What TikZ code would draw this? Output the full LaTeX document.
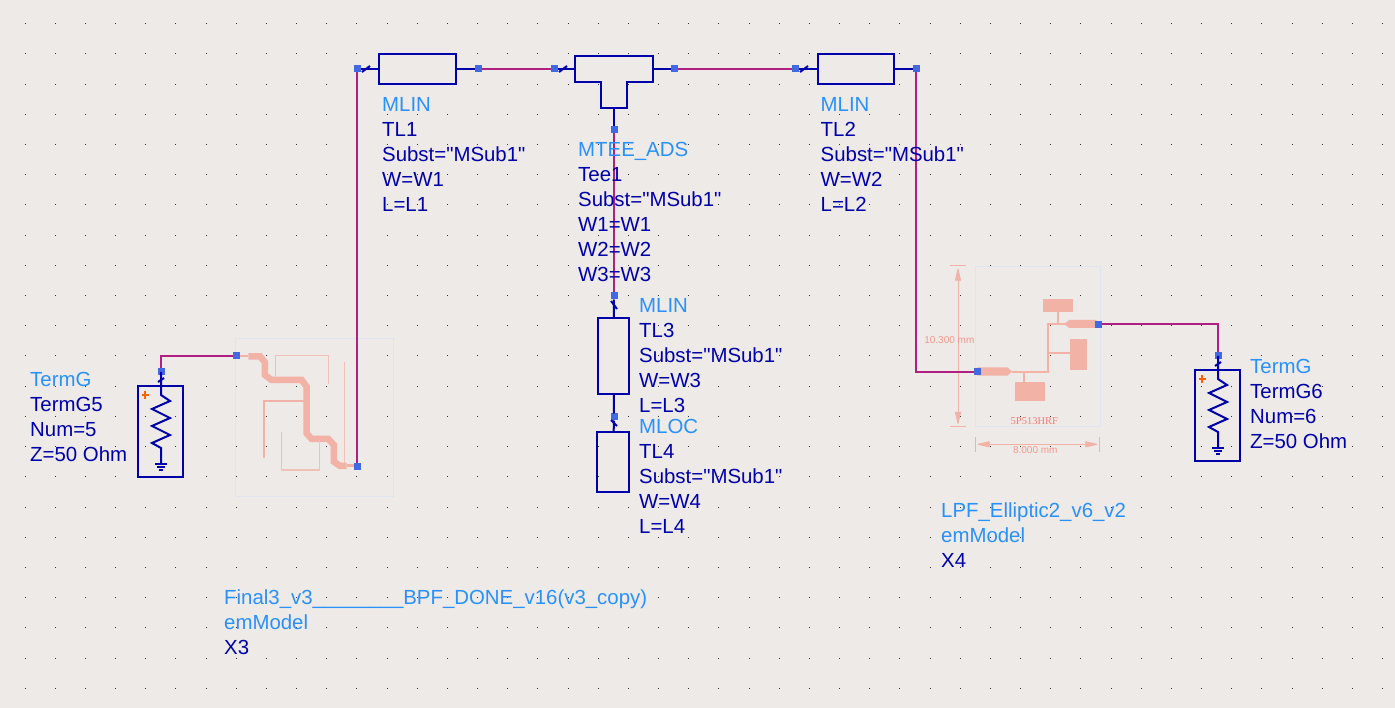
\documentclass[tikz,border=0pt]{standalone}
\usepackage{fontspec}
\setmainfont[Ligatures=TeXOff]{Liberation Sans}
\usepackage{tikz}
\usetikzlibrary{arrows.meta}

\definecolor{sheet}{RGB}{238,234,232}
\definecolor{wirecol}{RGB}{176,32,128}
\definecolor{partcol}{RGB}{0,0,170}
\definecolor{typecol}{RGB}{40,145,250}
\definecolor{pincol}{RGB}{65,105,225}
\definecolor{layoutcol}{RGB}{242,178,166}
\definecolor{framecol}{RGB}{222,228,240}

\tikzset{
  wire/.style={draw=wirecol, line width=2pt},
  part/.style={draw=partcol, line width=2pt},
  pinbox/.style={fill=pincol, minimum size=7pt, inner sep=0pt, outer sep=0pt},
  partbox/.style={draw=partcol, line width=2pt, inner sep=0pt, outer sep=0pt},
  param/.style={anchor=north west, inner sep=0pt, align=left, text=partcol,
    font=\fontsize{20.4}{25}\selectfont},
  trace/.style={draw=layoutcol, line width=#1, miter limit=4},
  trace/.default=1pt,
  dimline/.style={trace=1pt, {Stealth[length=14pt,width=6pt,inset=0pt]}-{Stealth[length=14pt,width=6pt,inset=0pt]}},
  termg/.pic={
    \node[pinbox] (-pin) at (0,0) {};
    \draw[part] (0,0) -- (0,23) -- (9,29) -- (-9,37) -- (9,46) -- (-9,54) -- (9,63) -- (-9,71) -- (0,76) -- (0,92);
    \draw[part] (-6,92) -- (6,92);
    \draw[part] (-4,95) -- (4,95);
    \draw[part] (-2,98) -- (2,98);
    \draw[part] (-3,10) -- (3,6);
    \draw[part] (-23,14) rectangle (22,105);
    \draw[draw=orange!75!red, line width=1.8pt] (-19.5,23) -- (-12,23) (-15.7,19) -- (-15.7,27);
  }
}

\begin{document}
\begin{tikzpicture}[x=1pt, y=-1pt]
\fill[sheet] (0,0) rectangle (1395,708);
\useasboundingbox (0,0) rectangle (1395,708);

% grid
\foreach \i in {0,...,45}
  \foreach \j in {0,...,22}
    \fill[black!80] (25+30.17*\i-.5, 23.8+30.2*\j-.5) rectangle ++(1,1);

% left em model
\draw[framecol] (235,338) rectangle (393,496);
\begin{scope}[shift={(130,330)}, x=.3333pt, y=-.3333pt]
\draw[trace=1.5pt] (330,78) -- (355,78);
\draw[trace=6.5pt] (355,79) -- (390,79) -- (405,97) -- (405,135) -- (425,150) -- (515,150) -- (530,170) -- (530,310) -- (545,327) -- (595,327) -- (612,345) -- (612,395) -- (630,408) -- (650,408);
\draw[trace=3pt] (650,408) -- (680,408);
\draw[trace=1.2pt, draw=layoutcol!75!sheet] (437,145) -- (437,76) -- (596,76) -- (596,162);
\draw[trace=1.2pt, draw=layoutcol!75!sheet] (643,97) -- (643,400);
\draw[trace=1.7pt] (525,213) -- (402,213) -- (402,385);
\draw[trace=1.2pt, draw=layoutcol!75!sheet] (455,307) -- (455,420) -- (568,420) -- (568,330);
\end{scope}

% right em model
\draw[framecol] (975,266) rectangle (1100,426);
\begin{scope}[shift={(900,255)}, x=.3333pt, y=-.3333pt]
\fill[layoutcol] (430,132) rectangle (520,172);
\fill[layoutcol] (510,252) rectangle (560,345);
\fill[layoutcol] (345,381) rectangle (436,438);
\fill[layoutcol] (232,337) -- (322,337) -- (336,350) -- (322,362) -- (232,362) -- cycle;
\fill[layoutcol] (590,195) -- (508,195) -- (492,207) -- (508,219) -- (590,219) -- cycle;
\draw[trace=2pt] (475,172) -- (475,205);
\draw[trace=2pt] (445,294) -- (510,294);
\draw[trace=2pt] (372,350) -- (372,381);
\draw[trace=2pt] (335,350) -- (443,350) -- (443,208) -- (495,208);
\draw[trace=1pt] (150,33) -- (197,33);
\draw[trace=1pt] (150,514) -- (197,514);
\draw[trace=1pt] (225,545) -- (225,590);
\draw[trace=1pt] (600,545) -- (600,590);
\draw[dimline] (174,35) -- (174,513);
\draw[dimline] (227,568) -- (598,568);
\node[text=layoutcol!85!red, font=\fontsize{10}{12}\selectfont, inner sep=0pt] (dimh) at (148,255) {10.300 mm};
\node[text=layoutcol!85!red, font=\fontsize{10}{12}\selectfont, inner sep=0pt] (dimw) at (406,585) {8.000 mm};
\node[text=layoutcol!70!red, font=\fontsize{10.5}{12}\selectfont\fontspec{Liberation Serif}, inner sep=0pt] (chip) at (403,497) {5P513HRF};
\end{scope}

% parts
\node[partbox, minimum width=77pt, minimum height=30pt] (tl1) at (417.5,69) {};
\node[partbox, minimum width=76pt, minimum height=30pt] (tl2) at (856,69) {};
\node[partbox, minimum width=31pt, minimum height=76pt] (tl3) at (613.5,356) {};
\node[partbox, minimum width=32pt, minimum height=60pt] (tl4) at (613,462) {};
\draw[partbox] (575,56) -- (653,56) -- (653,82) -- (627,82) -- (627,108) -- (601,108) -- (601,82) -- (575,82) -- cycle;
\coordinate (teeleft) at (575,69);
\coordinate (teeright) at (653,69);
\coordinate (teebot) at (614,108);

\node[pinbox] (p1) at (357,69) {};
\node[pinbox] (p2) at (478,69) {};
\node[pinbox] (p3) at (554,69) {};
\node[pinbox] (p4) at (674,69) {};
\node[pinbox] (p5) at (614,130) {};
\node[pinbox] (p6) at (795,69) {};
\node[pinbox] (p7) at (916,69) {};
\node[pinbox] (p8) at (614,296) {};
\node[pinbox] (p9) at (614,417) {};
\node[pinbox] (p10) at (236,356) {};
\node[pinbox] (p11) at (357,466) {};
\node[pinbox] (p12) at (977,372) {};
\node[pinbox] (p13) at (1098,324.5) {};
\pic (gfive) at (161,372) {termg};
\pic (gsix) at (1218,356) {termg};

% stubs
\draw[part] (p1) -- (tl1);
\draw[part] (tl1) -- (p2);
\draw[part] (p3) -- (teeleft);
\draw[part] (teeright) -- (p4);
\draw[part] (teebot) -- (p5);
\draw[part] (p6) -- (tl2);
\draw[part] (tl2) -- (p7);
\draw[part] (p8) -- (tl3);
\draw[part] (tl3) -- (p9);
\draw[part] (p9) -- (tl4);
\draw[part] ([shift={(5,3)}]p1.center) -- ++(8,-6);
\draw[part] ([shift={(5,3)}]p3.center) -- ++(8,-6);
\draw[part] ([shift={(5,3)}]p6.center) -- ++(8,-6);
\draw[part] ([shift={(-3,5)}]p8.center) -- ++(6,8);
\draw[part] ([shift={(-3,3)}]p9.center) -- ++(6,6);

% wires
\draw[wire] (p2) -- (p3);
\draw[wire] (p4) -- (p6);
\draw[wire] (p5) -- (p8);
\draw[wire] (p1) -- (p11);
\draw[wire] (p7) |- (p12);
\draw[wire] (gfive-pin) |- (p10);
\draw[wire] (p13) -| (gsix-pin);

% labels
\node[param] (lblone) at (382,97) {\textcolor{typecol}{MLIN}\\TL1\\Subst="MSub1"\\W=W1\\L=L1};
\node[param] (lbltwo) at (820.5,97) {\textcolor{typecol}{MLIN}\\TL2\\Subst="MSub1"\\W=W2\\L=L2};
\node[param] (lbltee) at (578,142) {\textcolor{typecol}{MTEE\_ADS}\\Tee1\\Subst="MSub1"\\W1=W1\\W2=W2\\W3=W3};
\node[param] (lblthree) at (639,298) {\textcolor{typecol}{MLIN}\\TL3\\Subst="MSub1"\\W=W3\\L=L3};
\node[param] (lblfour) at (639,419) {\textcolor{typecol}{MLOC}\\TL4\\Subst="MSub1"\\W=W4\\L=L4};
\node[param] (lblgfive) at (30,372) {\textcolor{typecol}{TermG}\\TermG5\\Num=5\\Z=50 Ohm};
\node[param] (lblgsix) at (1250,359) {\textcolor{typecol}{TermG}\\TermG6\\Num=6\\Z=50 Ohm};
\node[param] (lbllpf) at (941,503) {\textcolor{typecol}{LPF\_Elliptic2\_v6\_v2}\\\textcolor{typecol}{emModel}\\X4};
\node[param] (lblbpf) at (224,590) {\textcolor{typecol}{Final3\_v3\_\_\_\_\_\_\_\_BPF\_DONE\_v16(v3\_copy)}\\\textcolor{typecol}{emModel}\\X3};
\end{tikzpicture}
\end{document}
